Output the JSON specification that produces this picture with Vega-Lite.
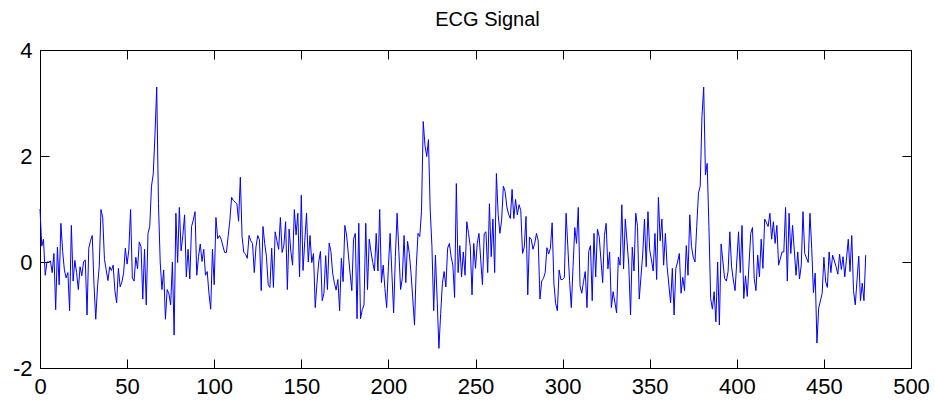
{
  "$schema": "https://vega.github.io/schema/vega-lite/v6.json",
  "width": 871,
  "height": 318,
  "autosize": "none",
  "padding": {"left": 40, "top": 50, "right": 24, "bottom": 40},
  "background": "white",
  "title": {"text": "ECG Signal", "fontSize": 20, "font": "Liberation Sans", "fontWeight": "normal", "color": "black", "offset": 9, "dx": 12},
  "config": {
    "view": {"stroke": null},
    "axis": {"grid": false, "domainColor": "black", "tickColor": "black", "labelColor": "black", "labelFont": "Liberation Sans", "labelFontSize": 22, "tickSize": -9, "domainWidth": 1, "tickWidth": 1, "labelFlush": false, "labelOverlap": false, "title": null}
  },
  "data": {"values": [
    {"sample":0,"value":1.0},{"sample":1,"value":0.3},{"sample":2,"value":0.43},{"sample":3,"value":-0.25},{"sample":4,"value":0.0},{"sample":5,"value":0.0},{"sample":6,"value":0.02},{"sample":7,"value":-0.2},{"sample":8,"value":0.16},{"sample":9,"value":-0.9},
    {"sample":10,"value":0.28},{"sample":11,"value":-0.43},{"sample":12,"value":0.73},{"sample":13,"value":0.2},{"sample":14,"value":-0.15},{"sample":15,"value":-0.3},{"sample":16,"value":-0.2},{"sample":17,"value":-0.92},{"sample":18,"value":0.69},{"sample":19,"value":-0.36},
    {"sample":20,"value":0.03},{"sample":21,"value":-0.2},{"sample":22,"value":-0.52},{"sample":23,"value":-0.09},{"sample":24,"value":-0.26},{"sample":25,"value":0.0},{"sample":26,"value":0.04},{"sample":27,"value":-1.0},{"sample":28,"value":0.26},{"sample":29,"value":0.4},
    {"sample":30,"value":0.5},{"sample":31,"value":-0.43},{"sample":32,"value":-1.08},{"sample":33,"value":-0.47},{"sample":34,"value":-0.09},{"sample":35,"value":0.99},{"sample":36,"value":0.84},{"sample":37,"value":0.05},{"sample":38,"value":-0.15},{"sample":39,"value":-0.35},
    {"sample":40,"value":-0.09},{"sample":41,"value":-0.16},{"sample":42,"value":-0.06},{"sample":43,"value":-0.54},{"sample":44,"value":-0.77},{"sample":45,"value":-0.12},{"sample":46,"value":-0.47},{"sample":47,"value":-0.38},{"sample":48,"value":-0.21},{"sample":49,"value":0.26},
    {"sample":50,"value":-0.04},{"sample":51,"value":0.23},{"sample":52,"value":0.99},{"sample":53,"value":-0.3},{"sample":54,"value":-0.36},{"sample":55,"value":0.09},{"sample":56,"value":-0.13},{"sample":57,"value":0.38},{"sample":58,"value":0.29},{"sample":59,"value":-0.7},
    {"sample":60,"value":0.24},{"sample":61,"value":-0.81},{"sample":62,"value":0.54},{"sample":63,"value":0.67},{"sample":64,"value":1.43},{"sample":65,"value":1.66},{"sample":66,"value":2.4},{"sample":67,"value":3.3},{"sample":68,"value":1.1},{"sample":69,"value":0.0},
    {"sample":70,"value":-0.52},{"sample":71,"value":-0.15},{"sample":72,"value":-1.08},{"sample":73,"value":-0.52},{"sample":74,"value":-0.6},{"sample":75,"value":-0.81},{"sample":76,"value":0.0},{"sample":77,"value":-1.38},{"sample":78,"value":0.92},{"sample":79,"value":-0.01},
    {"sample":80,"value":1.03},{"sample":81,"value":0.21},{"sample":82,"value":0.5},{"sample":83,"value":0.89},{"sample":84,"value":-0.28},{"sample":85,"value":0.24},{"sample":86,"value":-0.32},{"sample":87,"value":0.67},{"sample":88,"value":0.79},{"sample":89,"value":0.95},
    {"sample":90,"value":-0.25},{"sample":91,"value":0.1},{"sample":92,"value":0.34},{"sample":93,"value":0.01},{"sample":94,"value":0.24},{"sample":95,"value":-0.25},{"sample":96,"value":-0.18},{"sample":97,"value":-0.6},{"sample":98,"value":-0.89},{"sample":99,"value":0.24},
    {"sample":100,"value":-0.43},{"sample":101,"value":0.84},{"sample":102,"value":0.44},{"sample":103,"value":0.5},{"sample":104,"value":0.43},{"sample":105,"value":0.3},{"sample":106,"value":0.18},{"sample":107,"value":0.18},{"sample":108,"value":0.48},{"sample":109,"value":0.79},
    {"sample":110,"value":1.22},{"sample":111,"value":1.16},{"sample":112,"value":1.13},{"sample":113,"value":1.1},{"sample":114,"value":0.77},{"sample":115,"value":1.6},{"sample":116,"value":0.48},{"sample":117,"value":0.18},{"sample":118,"value":0.15},{"sample":119,"value":0.07},
    {"sample":120,"value":0.5},{"sample":121,"value":0.4},{"sample":122,"value":0.35},{"sample":123,"value":-0.2},{"sample":124,"value":0.29},{"sample":125,"value":0.5},{"sample":126,"value":0.42},{"sample":127,"value":-0.54},{"sample":128,"value":0.67},{"sample":129,"value":0.35},
    {"sample":130,"value":0.1},{"sample":131,"value":-0.43},{"sample":132,"value":-0.48},{"sample":133,"value":0.26},{"sample":134,"value":-0.48},{"sample":135,"value":0.57},{"sample":136,"value":0.4},{"sample":137,"value":0.24},{"sample":138,"value":0.84},{"sample":139,"value":0.18},
    {"sample":140,"value":0.32},{"sample":141,"value":0.76},{"sample":142,"value":-0.52},{"sample":143,"value":0.62},{"sample":144,"value":0.2},{"sample":145,"value":-0.06},{"sample":146,"value":0.99},{"sample":147,"value":0.51},{"sample":148,"value":0.92},{"sample":149,"value":-0.28},
    {"sample":150,"value":1.26},{"sample":151,"value":-0.16},{"sample":152,"value":0.4},{"sample":153,"value":0.92},{"sample":154,"value":0.0},{"sample":155,"value":0.5},{"sample":156,"value":-0.01},{"sample":157,"value":0.16},{"sample":158,"value":-0.86},{"sample":159,"value":-0.4},
    {"sample":160,"value":0.0},{"sample":161,"value":0.2},{"sample":162,"value":-0.73},{"sample":163,"value":-0.59},{"sample":164,"value":0.12},{"sample":165,"value":-0.52},{"sample":166,"value":0.36},{"sample":167,"value":0.2},{"sample":168,"value":-0.21},{"sample":169,"value":-0.4},
    {"sample":170,"value":-0.53},{"sample":171,"value":-0.33},{"sample":172,"value":-0.92},{"sample":173,"value":0.07},{"sample":174,"value":-0.37},{"sample":175,"value":0.69},{"sample":176,"value":0.51},{"sample":177,"value":0.15},{"sample":178,"value":-0.21},{"sample":179,"value":-0.54},
    {"sample":180,"value":0.43},{"sample":181,"value":0.54},{"sample":182,"value":-1.07},{"sample":183,"value":0.73},{"sample":184,"value":-1.07},{"sample":185,"value":-0.9},{"sample":186,"value":-0.81},{"sample":187,"value":0.73},{"sample":188,"value":-0.52},{"sample":189,"value":0.43},
    {"sample":190,"value":0.2},{"sample":191,"value":-0.01},{"sample":192,"value":-0.17},{"sample":193,"value":0.54},{"sample":194,"value":-0.17},{"sample":195,"value":0.99},{"sample":196,"value":-0.39},{"sample":197,"value":-0.06},{"sample":198,"value":-0.5},{"sample":199,"value":-0.86},
    {"sample":200,"value":-0.09},{"sample":201,"value":0.54},{"sample":202,"value":-0.21},{"sample":203,"value":-0.96},{"sample":204,"value":0.1},{"sample":205,"value":0.92},{"sample":206,"value":0.2},{"sample":207,"value":-0.52},{"sample":208,"value":-0.3},{"sample":209,"value":0.5},
    {"sample":210,"value":-0.39},{"sample":211,"value":0.39},{"sample":212,"value":0.16},{"sample":213,"value":-0.21},{"sample":214,"value":-0.7},{"sample":215,"value":-1.19},{"sample":216,"value":-0.09},{"sample":217,"value":0.54},{"sample":218,"value":0.48},{"sample":219,"value":0.95},
    {"sample":220,"value":2.65},{"sample":221,"value":2.2},{"sample":222,"value":1.99},{"sample":223,"value":2.31},{"sample":224,"value":0.98},{"sample":225,"value":0.29},{"sample":226,"value":-0.92},{"sample":227,"value":0.13},{"sample":228,"value":-0.72},{"sample":229,"value":-1.63},
    {"sample":230,"value":-0.97},{"sample":231,"value":-0.4},{"sample":232,"value":-0.18},{"sample":233,"value":-0.47},{"sample":234,"value":0.26},{"sample":235,"value":0.35},{"sample":236,"value":0.1},{"sample":237,"value":-0.06},{"sample":238,"value":-0.67},{"sample":239,"value":1.48},
    {"sample":240,"value":-0.2},{"sample":241,"value":0.31},{"sample":242,"value":-0.28},{"sample":243,"value":0.19},{"sample":244,"value":-0.25},{"sample":245,"value":0.76},{"sample":246,"value":0.54},{"sample":247,"value":0.29},{"sample":248,"value":-0.62},{"sample":249,"value":0.35},
    {"sample":250,"value":-0.12},{"sample":251,"value":0.35},{"sample":252,"value":0.54},{"sample":253,"value":0.04},{"sample":254,"value":-0.43},{"sample":255,"value":0.54},{"sample":256,"value":0.57},{"sample":257,"value":-0.2},{"sample":258,"value":1.1},{"sample":259,"value":0.1},
    {"sample":260,"value":0.81},{"sample":261,"value":-0.2},{"sample":262,"value":1.67},{"sample":263,"value":0.9},{"sample":264,"value":0.54},{"sample":265,"value":0.79},{"sample":266,"value":1.43},{"sample":267,"value":1.33},{"sample":268,"value":1.04},{"sample":269,"value":0.9},
    {"sample":270,"value":0.82},{"sample":271,"value":1.37},{"sample":272,"value":0.82},{"sample":273,"value":1.18},{"sample":274,"value":0.89},{"sample":275,"value":1.08},{"sample":276,"value":0.97},{"sample":277,"value":0.16},{"sample":278,"value":0.28},{"sample":279,"value":0.86},
    {"sample":280,"value":-0.62},{"sample":281,"value":0.47},{"sample":282,"value":0.43},{"sample":283,"value":0.24},{"sample":284,"value":0.35},{"sample":285,"value":0.54},{"sample":286,"value":0.4},{"sample":287,"value":-0.7},{"sample":288,"value":-0.36},{"sample":289,"value":-0.31},
    {"sample":290,"value":-0.2},{"sample":291,"value":0.27},{"sample":292,"value":0.15},{"sample":293,"value":0.26},{"sample":294,"value":0.74},{"sample":295,"value":-0.4},{"sample":296,"value":-0.78},{"sample":297,"value":-0.92},{"sample":298,"value":-0.15},{"sample":299,"value":-0.33},
    {"sample":300,"value":-0.33},{"sample":301,"value":-0.29},{"sample":302,"value":0.92},{"sample":303,"value":0.29},{"sample":304,"value":-0.35},{"sample":305,"value":-0.86},{"sample":306,"value":-0.09},{"sample":307,"value":0.65},{"sample":308,"value":0.35},{"sample":309,"value":1.03},
    {"sample":310,"value":-0.45},{"sample":311,"value":-0.59},{"sample":312,"value":-0.37},{"sample":313,"value":-0.18},{"sample":314,"value":-0.86},{"sample":315,"value":0.2},{"sample":316,"value":0.31},{"sample":317,"value":-0.73},{"sample":318,"value":0.54},{"sample":319,"value":-0.28},
    {"sample":320,"value":0.62},{"sample":321,"value":0.48},{"sample":323,"value":-0.39},{"sample":324,"value":0.5},{"sample":325,"value":0.73},{"sample":326,"value":-0.13},{"sample":327,"value":0.19},{"sample":328,"value":-0.86},{"sample":329,"value":-0.56},
    {"sample":331,"value":-0.96},{"sample":332,"value":0.09},{"sample":333,"value":-0.06},{"sample":334,"value":1.08},{"sample":335,"value":-0.13},{"sample":336,"value":0.81},{"sample":338,"value":-0.06},{"sample":339,"value":-1.0},
    {"sample":340,"value":0.28},{"sample":341,"value":-0.17},{"sample":342,"value":0.92},{"sample":343,"value":0.67},{"sample":344,"value":-0.7},{"sample":346,"value":0.15},{"sample":347,"value":0.81},{"sample":348,"value":-0.09},{"sample":349,"value":0.95},
    {"sample":350,"value":0.23},{"sample":351,"value":0.04},{"sample":352,"value":-0.17},{"sample":353,"value":0.54},{"sample":354,"value":-0.33},{"sample":355,"value":1.22},{"sample":356,"value":0.4},{"sample":357,"value":0.81},{"sample":358,"value":-0.06},{"sample":359,"value":0.54},
    {"sample":360,"value":-0.09},{"sample":362,"value":-0.77},{"sample":363,"value":-0.12},{"sample":364,"value":-1.0},{"sample":365,"value":-0.12},{"sample":366,"value":0.0},{"sample":367,"value":0.16},{"sample":368,"value":-0.59},{"sample":369,"value":-0.29},
    {"sample":370,"value":-0.54},{"sample":371,"value":0.31},{"sample":372,"value":-0.25},{"sample":373,"value":0.89},{"sample":374,"value":0.29},{"sample":375,"value":0.09},{"sample":376,"value":0.0},{"sample":377,"value":0.67},{"sample":378,"value":1.3},{"sample":379,"value":1.43},
    {"sample":380,"value":2.74},{"sample":381,"value":3.3},{"sample":382,"value":1.64},{"sample":383,"value":1.86},{"sample":384,"value":0.67},{"sample":385,"value":-0.69},{"sample":386,"value":-0.89},{"sample":387,"value":-0.56},{"sample":388,"value":-1.13},{"sample":389,"value":0.0},
    {"sample":390,"value":-1.19},{"sample":391,"value":0.34},{"sample":393,"value":-0.31},{"sample":394,"value":-0.36},{"sample":395,"value":-0.18},{"sample":396,"value":0.57},{"sample":397,"value":-0.09},{"sample":398,"value":-0.34},{"sample":399,"value":-0.54},
    {"sample":401,"value":0.57},{"sample":402,"value":-0.2},{"sample":403,"value":0.69},{"sample":404,"value":-0.69},{"sample":405,"value":-0.26},{"sample":406,"value":-0.65},{"sample":408,"value":0.54},{"sample":409,"value":0.65},
    {"sample":410,"value":-0.31},{"sample":411,"value":-0.54},{"sample":412,"value":0.13},{"sample":413,"value":-0.28},{"sample":414,"value":0.43},{"sample":415,"value":-0.12},{"sample":416,"value":0.81},{"sample":418,"value":0.67},{"sample":419,"value":0.92},
    {"sample":420,"value":0.43},{"sample":421,"value":0.76},{"sample":422,"value":0.35},{"sample":423,"value":0.69},{"sample":424,"value":-0.06},{"sample":426,"value":0.19},{"sample":427,"value":0.19},{"sample":428,"value":1.03},{"sample":429,"value":-0.36},
    {"sample":430,"value":0.92},{"sample":431,"value":0.16},{"sample":432,"value":0.69},{"sample":434,"value":-0.25},{"sample":435,"value":0.19},{"sample":436,"value":-0.32},{"sample":437,"value":-0.06},{"sample":438,"value":0.95},{"sample":439,"value":0.16},
    {"sample":441,"value":-0.01},{"sample":442,"value":0.92},{"sample":443,"value":0.26},{"sample":444,"value":-0.58},{"sample":445,"value":-0.21},{"sample":446,"value":-1.53},{"sample":447,"value":-0.87},{"sample":449,"value":-0.59},
    {"sample":450,"value":0.09},{"sample":451,"value":-0.37},{"sample":452,"value":-0.48},{"sample":453,"value":0.19},{"sample":454,"value":-0.2},{"sample":455,"value":0.13},{"sample":457,"value":-0.09},{"sample":458,"value":-0.23},{"sample":459,"value":0.15},
    {"sample":460,"value":-0.14},{"sample":461,"value":0.1},{"sample":462,"value":-0.28},{"sample":464,"value":0.43},{"sample":465,"value":-0.18},{"sample":466,"value":0.5},{"sample":467,"value":-0.54},{"sample":468,"value":-0.81},
    {"sample":470,"value":0.11},{"sample":471,"value":-0.73},{"sample":472,"value":-0.4},{"sample":473,"value":-0.73},{"sample":474,"value":0.13}
  ]},
  "layer": [
    {
      "mark": {"type": "line", "color": "#0000ff", "strokeWidth": 1},
      "encoding": {
        "x": {"field": "sample", "type": "quantitative", "scale": {"domain": [0, 500], "nice": false, "zero": false},
              "axis": {"orient": "bottom", "values": [0, 50, 100, 150, 200, 250, 300, 350, 400, 450, 500], "labelExpr": "'' + datum.value", "labelPadding": 17}},
        "y": {"field": "value", "type": "quantitative", "scale": {"domain": [-2, 4], "nice": false, "zero": false},
              "axis": {"orient": "left", "values": [-2, 0, 2, 4], "labelExpr": "'' + datum.value", "labelPadding": 17}}
      }
    },
    {
      "mark": {"type": "line", "strokeOpacity": 0},
      "encoding": {
        "x": {"field": "sample", "type": "quantitative",
              "axis": {"orient": "top", "values": [0, 50, 100, 150, 200, 250, 300, 350, 400, 450, 500], "labels": false}},
        "y": {"field": "value", "type": "quantitative",
              "axis": {"orient": "right", "values": [-2, 0, 2, 4], "labels": false}}
      }
    }
  ]
}
